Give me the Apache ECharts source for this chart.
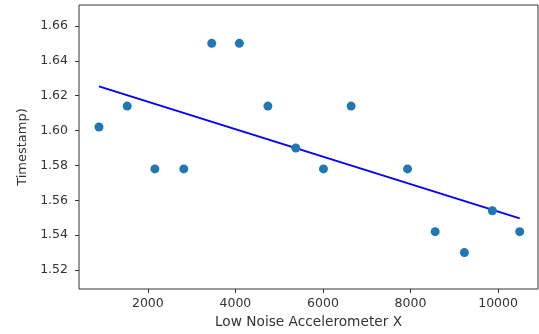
<!DOCTYPE html>
<html>
<head>
<meta charset="utf-8">
<script src="https://cdn.jsdelivr.net/npm/echarts@6/dist/echarts.min.js"></script>
<style>
  html, body { margin: 0; padding: 0; background: #fff; }
  #chart { width: 539px; height: 334px; }
</style>
</head>
<body>
<div id="chart"></div>
<script>
// data
const accelX = [883, 1528, 2160, 2820, 3459, 4090, 4742, 5380, 6011, 6643, 7932, 8563, 9231, 9870, 10494];
const timestamps = [1.602, 1.614, 1.578, 1.578, 1.650, 1.650, 1.614, 1.590, 1.578, 1.614, 1.578, 1.542, 1.530, 1.554, 1.542];
// fitted line end points
const fitX = [883, 10494];
const fitY = [1.6253, 1.5496];
const xTicks = [2000, 4000, 6000, 8000, 10000];
const yTicks = [1.52, 1.54, 1.56, 1.58, 1.60, 1.62, 1.64, 1.66];

const font = "DejaVu Sans";
const chart = echarts.init(document.getElementById("chart"));

// 坐标轴公共样式
function axisStyle(ticks, margin, fmt) {
  return {
    axisLine: { show: false },
    axisTick: {
      show: true,
      customValues: ticks,
      length: 4,
      lineStyle: { color: "#333", width: 1 },
    },
    axisLabel: {
      customValues: ticks,
      color: "#333",
      fontFamily: font,
      fontSize: 12.5,
      margin: margin,
      formatter: fmt,
    },
    splitLine: { show: false },
  };
}

const option = {
  animation: false,
  grid: {
    left: 79,
    right: 1,
    top: 5,
    bottom: 44,
    show: true,
    borderColor: "#333",
    borderWidth: 1,
  },
  xAxis: Object.assign(
    {
      type: "value",
      min: 427,
      max: 10912,
      name: "Low Noise Accelerometer X",
      nameLocation: "middle",
      nameGap: 26,
      nameTextStyle: { fontFamily: font, fontSize: 13.7, color: "#333" },
    },
    axisStyle(xTicks, 8, (v) => String(v))
  ),
  yAxis: Object.assign(
    {
      type: "value",
      min: 1.5091,
      max: 1.672,
      name: "Timestamp)",
      nameLocation: "middle",
      nameGap: 50,
      nameTextStyle: { fontFamily: font, fontSize: 13, color: "#333" },
    },
    axisStyle(yTicks, 11, (v) => v.toFixed(2))
  ),
  series: [
    {
      type: "line",
      data: fitX.map((x, i) => [x, fitY[i]]),
      symbol: "none",
      lineStyle: { color: "#0000ff", width: 2 },
      z: 2,
    },
    {
      type: "scatter",
      data: accelX.map((x, i) => [x, timestamps[i]]),
      symbolSize: 9,
      itemStyle: { color: "#1f77b4", opacity: 1 },
      z: 3,
    },
  ],
};
chart.setOption(option);
</script>
</body>
</html>
